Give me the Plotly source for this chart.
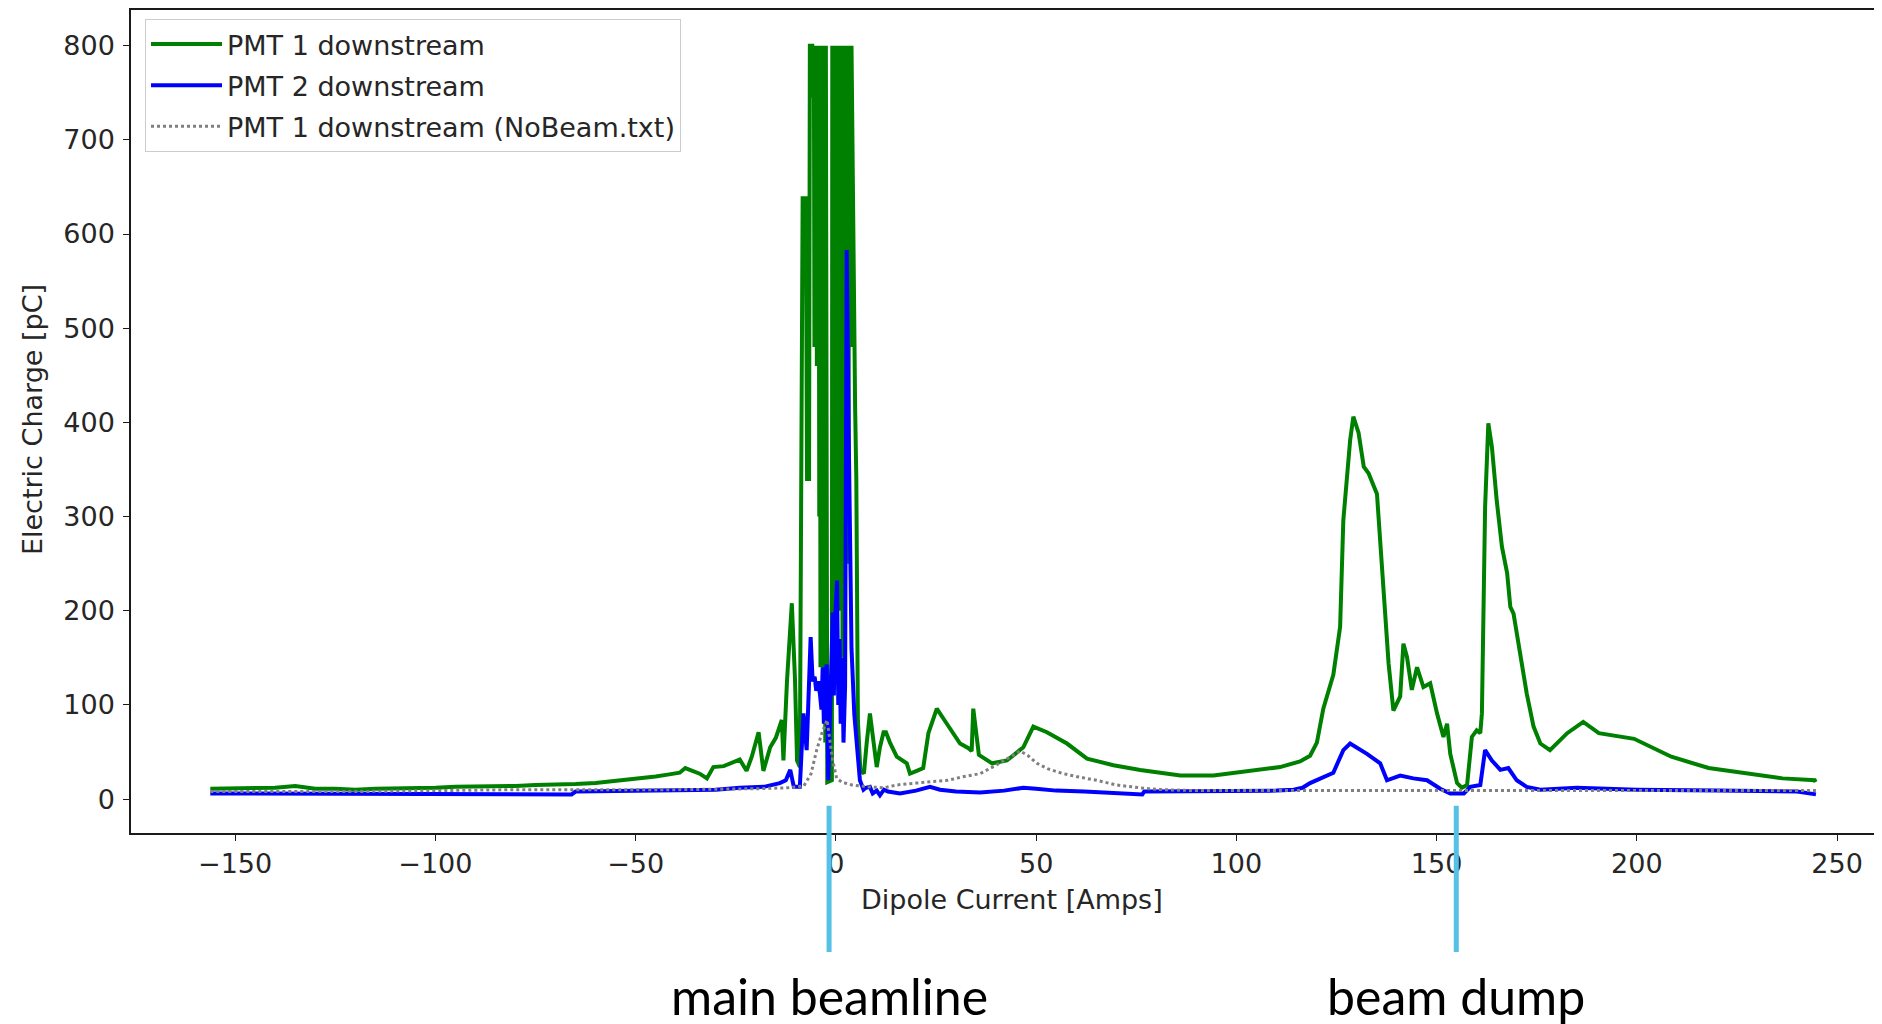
import plotly.graph_objects as go

# ---------------- data ----------------
pmt1_x = [-156.2, -150, -145, -140, -135, -130, -125, -120, -115, -110, -105, -100, -95, -90, -85, -80,
          -75, -70, -65, -60, -55, -50, -45, -42, -39, -37.6, -36, -34, -32.2, -30.6, -28, -26, -24,
          -22.3, -21, -19.3, -18.1, -16.4, -15, -13.5, -13.1, -12.2, -11.0, -10.2, -9.7, -9.0,
          -8.3, -7.5, -7.2, -6.7, -6.5, -5.9, -5.7, -5.5, -5.35, -5.2, -5.05, -4.9, -4.75, -4.6,
          -4.45, -4.3, -4.15, -4.0, -3.85, -3.7, -3.55, -3.4, -3.25, -3.1, -2.95, -2.8, -2.65, -2.5,
          -2.35, -2.25, -2.15, -1.0, -0.9, -0.75, -0.6, -0.45, -0.3, -0.15, 0.0, 0.15, 0.3, 0.45,
          0.6, 0.75, 0.9, 1.05, 1.2, 1.35, 1.5, 1.65, 1.8, 1.95, 2.1, 2.25, 2.4, 2.55, 2.7, 2.85,
          3.0, 3.15, 3.3, 3.45, 3.6, 3.8, 3.9, 4.2, 4.4, 4.8, 5.1, 5.5, 6.1, 7.0, 7.7,
          8.5, 10.2, 11.0, 11.9, 12.5, 13.5, 15.2, 17.7, 18.5, 20.2, 21.8, 23.1, 25.2, 27.7, 31.0,
          33.1, 33.9, 34.3, 35.7, 39.0, 42.7, 46.8, 49.3, 52.7, 57.7, 62.7, 69.3, 76.0, 86.0, 94.3,
          102.6, 110.9, 115.9, 118.4, 120.1, 121.7, 124.2, 125.0, 125.9, 126.7, 128.4, 129.2, 130.5,
          131.8, 133.0, 135.1, 136.3, 138.0, 139.2, 140.9, 141.7, 142.6, 143.8, 145.1, 146.7, 148.4,
          150.1, 151.7, 152.6, 153.4, 155.1, 156.3, 157.6, 158.8, 160.0, 160.9, 161.3, 162.1, 162.9,
          163.8, 165.0, 166.3, 167.6, 168.4, 169.2, 170.9, 172.5, 174.2, 175.9, 178.3, 182.6, 186.6,
          190.5, 199.3, 208.6, 217.9, 227.1, 236.4, 244.4, 244.6]
pmt1_y = [11, 11, 11, 12, 14, 11, 11, 10, 11, 11, 12, 12, 13, 13, 14, 14,
          15, 15, 16, 17, 19, 21, 24, 26, 28, 33, 30, 27, 22, 34, 35, 38, 42,
          30, 45, 71, 30, 55, 65, 84, 41, 126, 208, 126, 41, 34,
          638, 638, 340, 340, 800, 800, 745, 800, 480, 800, 620, 800, 460, 800,
          520, 800, 300, 800, 140, 800, 250, 800, 160, 800, 90, 800, 60, 800,
          150, 800, 18, 20, 800, 130, 800, 220, 800, 310, 800, 180, 800, 460,
          800, 200, 800, 300, 800, 620, 800, 150, 800, 330, 800, 700, 800, 400, 800, 560,
          800, 250, 800, 600, 800, 480, 800, 653, 653, 417, 341, 83, 31, 27, 60, 91,
          34, 55, 71, 71, 60, 45, 38, 27, 30, 33, 70, 96, 80, 59, 54,
          51, 96, 47, 38, 41, 55, 77, 71, 59, 43, 36, 31, 25, 25, 29,
          34, 40, 46, 60, 96, 132, 158, 183, 296, 381, 406, 389, 353,
          346, 324, 247, 144, 94, 109, 165, 151, 116, 140, 119, 123, 91,
          66, 80, 48, 17, 12, 15, 66, 73, 70, 91, 310, 399, 374,
          317, 268, 240, 204, 197, 155, 112, 77, 59, 52, 70, 82, 70,
          64, 45, 33, 28, 22, 20, 18, 107]

pmt2_x = [-156.2, -140, -120, -100, -80, -66, -65, -50, -40, -30, -24, -18, -14, -12.5, -11.4, -10.5,
          -9.0, -8.1, -7.3, -6.3, -5.8, -5.3, -4.9, -4.4, -4.0, -3.6, -3.3, -3.0, -2.6, -2.3, -1.9,
          -1.5, -1.1, -0.8, -0.5, -0.2, 0.3, 0.6, 0.9, 1.2, 1.6, 1.9, 2.3, 2.7, 3.2, 3.6, 3.9, 4.6,
          5.2, 6.0, 6.9, 7.5, 8.5, 9.2, 10.2, 11.0, 12.0,
          13.0, 16.0, 20.0, 23.5, 26.0, 30.0, 36.0, 42.0, 46.8, 50.0, 55.0, 62.0, 70.0, 76.5, 77.0,
          90.0, 100.0, 110.0, 114.3, 116.5, 118.4, 120.9, 124.2, 126.7, 128.4, 132.6, 135.9, 137.6,
          140.9, 144.2, 147.6, 150.9, 153.4, 156.8, 158.4, 160.9, 162.1, 163.8, 165.9, 167.9, 170.0,
          172.5, 175.9, 185.0, 200.0, 220.0, 240.0, 244.7]
pmt2_y = [6, 6, 5, 5, 5, 5, 8, 9, 9, 10, 12, 13, 17, 20, 31, 13,
          13, 91, 52, 172, 125, 130, 115, 125, 112, 95, 140, 80, 130, 143, 20,
          98, 160, 198, 110, 190, 232, 100, 170, 80, 150, 60, 120, 583, 388, 250, 160, 90,
          55, 20, 10, 12, 13, 6, 9, 4, 10,
          8, 6, 9, 13, 10, 8, 7, 9, 12, 11, 9, 8, 6, 5, 8,
          8, 9, 9, 10, 12, 17, 22, 28, 52, 59, 48, 38, 20,
          25, 22, 20, 11, 6, 6, 13, 15, 52, 41, 31, 33, 20,
          13, 10, 12, 10, 9, 8, 5]

nobeam_x = [-156.2, -120, -100, -80, -60, -40, -20, -12, -8, -6.2, -4.8, -3.5, -2.2, -1.5, -0.8, 0.2,
            1.5, 4.0, 8.0, 12.0, 15.2, 20.0, 23.5, 28.0, 32.0, 36.0, 40.0, 44.3, 46.0, 48.0, 50.2,
            53.0, 56.8, 60.0, 65.1, 70.0, 73.4, 78.0, 81.8, 90.0, 100.0, 120.0, 140.0, 160.0, 180.0,
            200.0, 220.0, 244.7]
nobeam_y = [8, 8, 9, 10, 10, 10, 11, 12, 14, 27, 52, 70, 84, 60, 41, 22,
            18, 15, 13, 12, 15, 17, 18, 20, 24, 27, 36, 47, 51, 46, 38,
            32, 27, 24, 20, 15, 13, 11, 10, 9, 9, 9, 9, 9, 9,
            9, 9, 9]

x_ticks = [-150, -100, -50, 0, 50, 100, 150, 200, 250]
y_ticks = [0, 100, 200, 300, 400, 500, 600, 700, 800]

marker_x = [-1.7, 154.9]
marker_labels = ["main beamline", "beam dump"]

# ---------------- figure ----------------
FONT = "DejaVu Sans"
TXT = "#262626"
FS = 27

fig = go.Figure()
fig.add_trace(go.Scatter(x=pmt1_x, y=pmt1_y, mode="lines", name="PMT 1 downstream",
                         line=dict(color="#008000", width=4), legendgroup="a"))
fig.add_trace(go.Scatter(x=pmt2_x, y=pmt2_y, mode="lines", name="PMT 2 downstream",
                         line=dict(color="#0000ff", width=4), legendgroup="b"))
fig.add_trace(go.Scatter(x=nobeam_x, y=nobeam_y, mode="lines", name="PMT 1 downstream (NoBeam.txt)",
                         line=dict(color="#808080", width=3, dash="dot"), legendgroup="c"))

for mx, lab in zip(marker_x, marker_labels):
    fig.add_shape(type="line", xref="x", yref="paper", x0=mx, x1=mx, y0=-0.1446, y1=0.033,
                  line=dict(color="#56C1E6", width=5), layer="above")
    fig.add_annotation(x=mx, xref="x", y=-0.198, yref="paper", text=lab, showarrow=False,
                       xanchor="center", yanchor="middle",
                       font=dict(family="Lato", size=50, color="#000000"))

fig.add_annotation(x=0.5031, y=-0.0814, xref="paper", yref="paper", text="Dipole Current [Amps]",
                   showarrow=False, xanchor="center", yanchor="middle",
                   font=dict(family=FONT, size=FS, color=TXT))
fig.add_annotation(x=-0.0565, y=0.5018, xref="paper", yref="paper", text="Electric Charge [pC]",
                   showarrow=False, xanchor="center", yanchor="middle", textangle=-90,
                   font=dict(family=FONT, size=FS, color=TXT))

# page body has an 8px margin: figure coordinates are offset by 8px
fig.update_layout(
    width=1882, height=1024,
    margin=dict(l=123, r=8, t=2, b=199, pad=0),
    paper_bgcolor="white", plot_bgcolor="white",
    font=dict(family=FONT, size=FS, color=TXT),
    showlegend=True,
    legend=dict(x=0.008, y=0.989, xanchor="left", yanchor="top",
                bgcolor="rgba(255,255,255,0.85)", bordercolor="#cccccc", borderwidth=1,
                font=dict(family=FONT, size=FS, color=TXT), tracegroupgap=3,
                itemwidth=71),
    xaxis=dict(range=[-176, 261.2], tickvals=x_ticks, showgrid=False, zeroline=False,
               showline=True, linecolor="#1a1a1a", linewidth=1.5, mirror=True, automargin=False,
               ticks="outside", ticklen=6, tickwidth=1.3, tickcolor="#1a1a1a",
               tickfont=dict(family=FONT, size=FS, color=TXT)),
    yaxis=dict(range=[-36, 837.9], tickvals=y_ticks, showgrid=False, zeroline=False,
               showline=True, linecolor="#1a1a1a", linewidth=1.5, mirror=False, automargin=False,
               ticks="outside", ticklen=6, tickwidth=1.3, tickcolor="#1a1a1a", ticklabelstandoff=3,
               tickfont=dict(family=FONT, size=FS, color=TXT)),
)

fig.write_html("out.html")
